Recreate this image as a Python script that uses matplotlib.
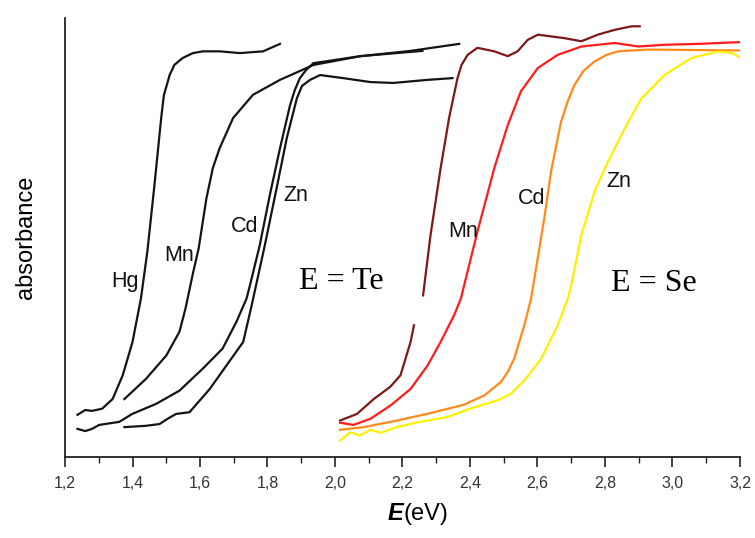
import numpy as np
import matplotlib
matplotlib.use("Agg")
import matplotlib.pyplot as plt
from matplotlib.ticker import MultipleLocator, FuncFormatter

# E = Te series (black)
hg_te_x = [1.237, 1.260, 1.280, 1.310, 1.341, 1.371, 1.400, 1.425, 1.444, 1.465, 1.485, 1.493,
           1.510, 1.524, 1.549, 1.579, 1.609, 1.658, 1.718, 1.787, 1.837]
hg_te_y = [0.096, 0.107, 0.105, 0.110, 0.132, 0.186, 0.262, 0.361, 0.468, 0.619, 0.772, 0.824,
           0.870, 0.893, 0.909, 0.920, 0.924, 0.924, 0.920, 0.924, 0.941]

mn_te_x = [1.376, 1.440, 1.500, 1.539, 1.557, 1.579, 1.596, 1.619, 1.638, 1.658, 1.698, 1.757,
           1.837, 1.936, 2.075, 2.259]
mn_te_y = [0.132, 0.178, 0.231, 0.285, 0.338, 0.418, 0.475, 0.589, 0.658, 0.703, 0.772, 0.825,
           0.859, 0.893, 0.913, 0.925]

cd_te_x = [1.237, 1.260, 1.280, 1.301, 1.361, 1.399, 1.470, 1.539, 1.608, 1.667, 1.708, 1.738,
           1.748, 1.777, 1.807, 1.837, 1.867, 1.881, 1.896, 1.914, 1.936, 2.075, 2.224, 2.368]
cd_te_y = [0.064, 0.059, 0.064, 0.073, 0.080, 0.098, 0.121, 0.151, 0.201, 0.247, 0.308, 0.361,
           0.391, 0.482, 0.597, 0.703, 0.802, 0.836, 0.863, 0.881, 0.897, 0.913, 0.925, 0.941]

zn_te_x = [1.376, 1.440, 1.480, 1.504, 1.529, 1.569, 1.629, 1.678, 1.728, 1.753, 1.792, 1.827,
           1.857, 1.887, 1.902, 1.926, 1.956, 2.024, 2.105, 2.173, 2.274, 2.348]
zn_te_y = [0.068, 0.071, 0.075, 0.087, 0.098, 0.102, 0.155, 0.208, 0.262, 0.345, 0.482, 0.612,
           0.726, 0.817, 0.845, 0.859, 0.870, 0.863, 0.854, 0.852, 0.859, 0.863]

# E = Se series (coloured); nan marks the break in the dark curve
dk_se_x = [2.015, 2.065, 2.115, 2.164, 2.194, 2.224, 2.234, np.nan, 2.261, 2.283, 2.313, 2.338,
           2.363, 2.375, 2.393, 2.422, 2.472, 2.512, 2.541, 2.571, 2.601, 2.680, 2.730, 2.779,
           2.829, 2.879, 2.903]
dk_se_y = [0.083, 0.098, 0.132, 0.160, 0.186, 0.262, 0.300, np.nan, 0.368, 0.505, 0.658, 0.772,
           0.863, 0.893, 0.916, 0.932, 0.924, 0.913, 0.924, 0.950, 0.962, 0.954, 0.947, 0.962,
           0.973, 0.981, 0.981]

mn_se_x = [2.015, 2.055, 2.105, 2.164, 2.224, 2.274, 2.313, 2.353, 2.373, 2.422, 2.472, 2.512,
           2.551, 2.601, 2.660, 2.730, 2.829, 2.899, 2.978, 3.077, 3.201]
mn_se_y = [0.078, 0.073, 0.087, 0.117, 0.155, 0.208, 0.262, 0.323, 0.361, 0.513, 0.658, 0.756,
           0.833, 0.886, 0.916, 0.935, 0.943, 0.935, 0.939, 0.941, 0.945]

cd_se_x = [2.015, 2.085, 2.184, 2.283, 2.382, 2.442, 2.492, 2.512, 2.531, 2.561, 2.581, 2.620,
           2.640, 2.670, 2.690, 2.710, 2.736, 2.769, 2.805, 2.839, 2.928, 3.201]
cd_se_y = [0.062, 0.068, 0.083, 0.100, 0.119, 0.140, 0.171, 0.194, 0.224, 0.300, 0.361, 0.543,
           0.650, 0.764, 0.811, 0.848, 0.879, 0.901, 0.916, 0.924, 0.928, 0.926]

zn_se_x = [2.015, 2.045, 2.075, 2.105, 2.135, 2.184, 2.244, 2.333, 2.412, 2.482, 2.521, 2.561,
           2.611, 2.660, 2.690, 2.700, 2.730, 2.769, 2.809, 2.859, 2.908, 2.978, 3.057, 3.137,
           3.176, 3.201]
zn_se_y = [0.037, 0.056, 0.049, 0.062, 0.055, 0.068, 0.079, 0.091, 0.113, 0.129, 0.144, 0.174,
           0.224, 0.300, 0.361, 0.391, 0.505, 0.604, 0.673, 0.749, 0.817, 0.871, 0.909, 0.924,
           0.920, 0.910]

curve_labels = [("Hg", 1.379, 0.399), ("Mn", 1.537, 0.459), ("Cd", 1.731, 0.524),
                ("Zn", 1.884, 0.596), ("Mn", 2.381, 0.513), ("Cd", 2.583, 0.589),
                ("Zn", 2.841, 0.627)]
group_labels = [("E = Te", 2.018, 0.399), ("E = Se", 2.946, 0.395)]

fig = plt.figure(figsize=(7.55, 5.38), dpi=100)
ax = fig.add_axes([0.0861, 0.1506, 0.894, 0.816])

black = "#141414"
for xs, ys in [(hg_te_x, hg_te_y), (mn_te_x, mn_te_y), (cd_te_x, cd_te_y), (zn_te_x, zn_te_y)]:
    ax.plot(xs, ys, color=black, lw=1.6, solid_joinstyle="round")

ax.plot(dk_se_x, dk_se_y, color="#7d1818", lw=1.6, solid_joinstyle="round")
ax.plot(mn_se_x, mn_se_y, color="#ff1c1c", lw=1.6, solid_joinstyle="round")
ax.plot(cd_se_x, cd_se_y, color="#ff8a1a", lw=1.6, solid_joinstyle="round")
ax.plot(zn_se_x, zn_se_y, color="#fff000", lw=1.6, solid_joinstyle="round")

for txt, x, y in curve_labels:
    ax.text(x, y, txt, fontsize=15.5, family="Liberation Sans", color="#111111",
            ha="center", va="center")
for txt, x, y in group_labels:
    ax.text(x, y, txt, fontsize=23, family="Liberation Serif", color="black",
            ha="center", va="center")

ax.set_xlim(1.2, 3.2)
ax.set_ylim(0, 1)
ax.spines["top"].set_visible(False)
ax.spines["right"].set_visible(False)
for s in ("left", "bottom"):
    ax.spines[s].set_linewidth(1.3)
    ax.spines[s].set_color("#222222")

ax.xaxis.set_major_locator(MultipleLocator(0.2))
ax.xaxis.set_minor_locator(MultipleLocator(0.1))
ax.xaxis.set_major_formatter(FuncFormatter(lambda v, p: f"{v:.1f}".replace(".", ",")))
ax.tick_params(axis="x", which="major", length=7, width=1.2, direction="out", pad=7,
               labelsize=11.5, labelcolor="#333333", color="#222222")
ax.tick_params(axis="x", which="minor", length=4, width=1.0, direction="out", color="#222222")
for lab in ax.get_xticklabels():
    lab.set_family("Liberation Sans")
ax.set_yticks([])

ax.set_ylabel("absorbance", fontsize=17, family="Liberation Sans", labelpad=20)
fig.text(0.534, 0.024, "(eV)", fontsize=17, family="Liberation Sans", ha="left", va="bottom")
fig.text(0.534, 0.024, "E", fontsize=17, family="Liberation Sans", weight="bold",
         style="italic", ha="right", va="bottom")

fig.savefig("out.png", dpi=100)
